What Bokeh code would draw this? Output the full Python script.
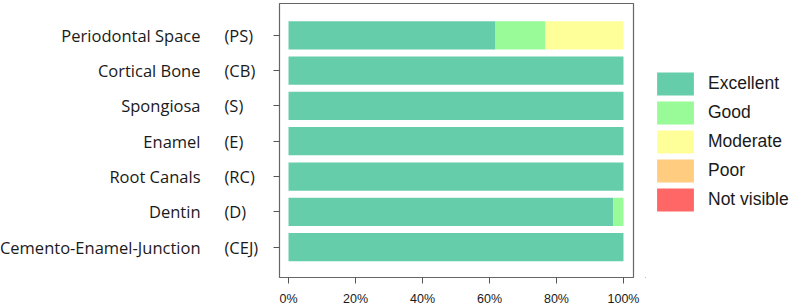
from bokeh.plotting import figure
from bokeh.layouts import row
from bokeh.models import ColumnDataSource, Range1d, FixedTicker, PrintfTickFormatter, Label
from bokeh.embed import file_html
from bokeh.resources import INLINE

categories = ["Periodontal Space", "Cortical Bone", "Spongiosa", "Enamel",
              "Root Canals", "Dentin", "Cemento-Enamel-Junction"]
abbrevs = ["(PS)", "(CB)", "(S)", "(E)", "(RC)", "(D)", "(CEJ)"]
excellent = [61.8, 100, 100, 100, 100, 96.9, 100]
good = [14.9, 0, 0, 0, 0, 3.1, 0]
moderate = [23.3, 0, 0, 0, 0, 0, 0]
poor = [0, 0, 0, 0, 0, 0, 0]
not_visible = [0, 0, 0, 0, 0, 0, 0]
rating_labels = ["Excellent", "Good", "Moderate", "Poor", "Not visible"]
rating_colors = ["#66CDAA", "#98FB98", "#FFFF99", "#FFCC80", "#FF6666"]
x_ticks = [0, 20, 40, 60, 80, 100]

n = len(categories)
ypos = list(range(n - 1, -1, -1))
stackers = ["excellent", "good", "moderate", "poor", "not_visible"]
src = ColumnDataSource(dict(y=ypos, excellent=excellent, good=good, moderate=moderate,
                            poor=poor, not_visible=not_visible))

TOP, BOTTOM = 3, 29
TXT = "#1a1a1a"

# main plot
p = figure(width=375, height=308, output_backend="svg", toolbar_location=None,
           x_range=Range1d(-2.69, 102.99), y_range=Range1d(-0.86, 6.9),
           min_border_left=9, min_border_right=12, min_border_top=TOP, min_border_bottom=BOTTOM)
p.grid.visible = False
p.outline_line_color = "#666666"
p.outline_line_width = 1.2

p.hbar_stack(stackers, y="y", height=0.8, color=rating_colors, line_color=None, source=src)

p.yaxis.ticker = FixedTicker(ticks=ypos)
p.yaxis.major_label_overrides = {y: "" for y in ypos}
p.yaxis.axis_line_color = None
p.yaxis.major_tick_out = 6
p.yaxis.major_tick_in = 0
p.yaxis.minor_tick_line_color = None
p.yaxis.major_tick_line_color = "#555555"
p.yaxis.major_label_standoff = 0

p.xaxis.ticker = FixedTicker(ticks=x_ticks)
p.xaxis.formatter = PrintfTickFormatter(format="%d%%")
p.xaxis.axis_line_color = None
p.xaxis.major_tick_out = 6
p.xaxis.major_tick_in = 0
p.xaxis.minor_tick_line_color = None
p.xaxis.major_tick_line_color = "#555555"
p.xaxis.major_label_standoff = 8
p.xaxis.major_label_text_font = "Liberation Sans"
p.xaxis.major_label_text_font_size = "12.5px"
p.xaxis.major_label_text_color = TXT

# category label column
p0 = figure(width=270, height=308, output_backend="svg", toolbar_location=None,
            x_range=Range1d(0, 270), y_range=p.y_range,
            x_axis_location=None, y_axis_location=None,
            min_border_left=0, min_border_right=0, min_border_top=TOP, min_border_bottom=BOTTOM)
p0.grid.visible = False
p0.outline_line_color = None
for y, name, abbr in zip(ypos, categories, abbrevs):
    p0.add_layout(Label(x=200, y=y, text=name, text_align="right", text_baseline="middle",
                        text_font="Open Sans", text_font_size="16.5px", text_color=TXT))
    p0.add_layout(Label(x=224, y=y, text=abbr, text_align="left", text_baseline="middle",
                        text_font="Open Sans", text_font_size="16.5px", text_color=TXT))

# legend panel (same stacked renderers, kept outside this panel's visible range)
p2 = figure(width=149, height=308, output_backend="svg", toolbar_location=None,
            x_range=Range1d(1000, 1001), y_range=Range1d(1000, 1001),
            x_axis_location=None, y_axis_location=None, min_border=0)
p2.grid.visible = False
p2.outline_line_color = None
p2.hbar_stack(stackers, y="y", height=0.8, color=rating_colors, line_color=None, source=src,
              legend_label=rating_labels)
lg = p2.legend[0]
lg.location = (7, 63)
lg.padding = 0
lg.margin = 0
lg.spacing = 0
lg.glyph_width = 46
lg.glyph_height = 29
lg.label_standoff = 10
lg.label_text_font = "Liberation Sans"
lg.label_text_font_size = "17.5px"
lg.label_text_color = TXT
lg.border_line_color = None
lg.background_fill_alpha = 0

layout = row(p0, p, p2, spacing=0)
open("out.html", "w").write(file_html(layout, INLINE))
